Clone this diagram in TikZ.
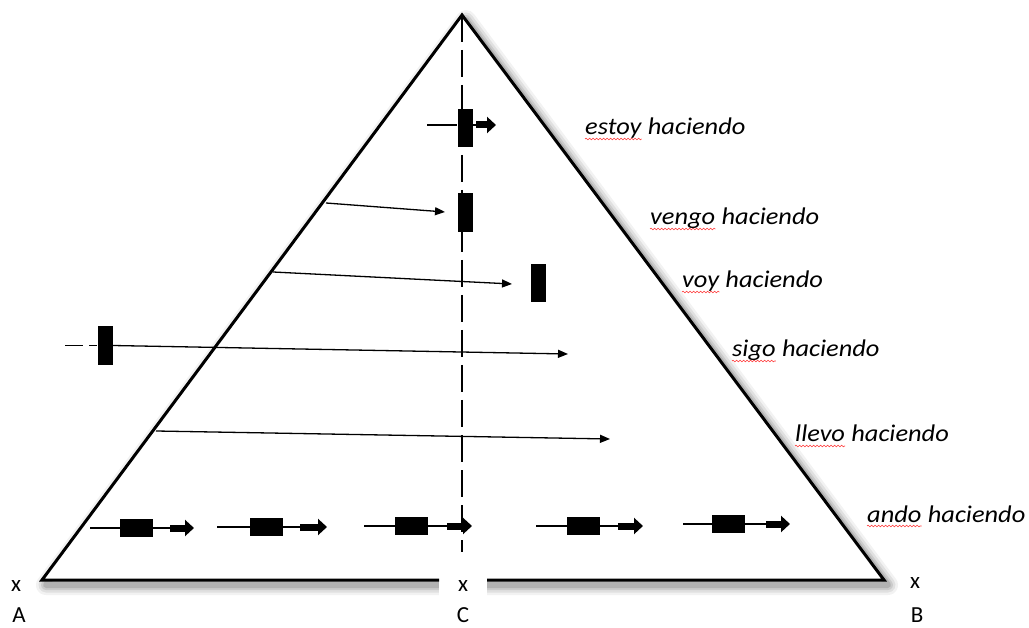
\documentclass[tikz,border=0pt]{standalone}
\usepackage{fontspec}
\setmainfont{Carlito}
\usetikzlibrary{arrows.meta,decorations.pathmorphing}
\begin{document}
\begin{tikzpicture}[x=1pt,y=-1pt,
  edge/.style={line width=3pt, line join=miter, line cap=butt},
  axis/.style={line width=1.6pt, dash pattern=on 27pt off 8pt},
  bar/.style={fill=black, draw=none, inner sep=0pt, minimum width=15pt, minimum height=38pt},
  block/.style={fill=black, draw=none, inner sep=0pt, minimum width=33pt, minimum height=18pt},
  lead/.style={line width=1.3pt},
  thinarrow/.style={line width=1.3pt, -{Triangle[length=10pt,width=8pt]}},
  fatarrow/.style={line width=7pt, -{Triangle[length=9pt,width=16pt]}},
  verb/.style={font=\fontsize{24}{28}\selectfont\itshape, inner sep=0pt, anchor=base west},
  corner/.style={font=\fontsize{23}{27}\selectfont, inner sep=0pt, anchor=base},
  spell/.style={draw=red!80, line width=0.6pt, decorate,
    decoration={snake, segment length=3.5pt, amplitude=0.8pt}}
]
\useasboundingbox (0,0) rectangle (1029,628);
\fill[white] (0,0) rectangle (1029,628);

% triangle corners
\coordinate (A) at (42,580);
\coordinate (B) at (884,580);
\coordinate (T) at (462,15);

% soft shadow behind the triangle
\foreach \w/\o in {20/0.05,15/0.07,10/0.09,6/0.12}{
  \draw[line width=\w pt, black, opacity=\o, line join=round]
    ([shift={(4,5)}]A) -- ([shift={(4,5)}]T) -- ([shift={(4,5)}]B) -- cycle;
}
\fill[white] (A) -- (T) -- (B) -- cycle;
\fill[white] (439,570) rectangle (487,600);

% outline with an opening in the base at C
\draw[edge] (439,580) -- (A) -- (T) -- (B) -- (487,580);

% central axis
\coordinate (axbot) at (462,552);
\draw[axis] (T) -- (axbot);

% estoy haciendo
\node[bar] (bar0) at (465,128) {};
\coordinate (s0) at (427,125);
\coordinate (f0) at (476,125);
\coordinate (t0) at (496,125);
\draw[lead] (s0) -- (s0 -| bar0.west);
\draw[lead] (bar0.east |- s0) -- (f0);
\draw[fatarrow] (f0) -- (t0);

% vengo haciendo
\node[bar, minimum height=39pt] (bar2) at (465,212.5) {};
\coordinate (s2) at (326,203);
\coordinate (t2) at (445,212);
\draw[thinarrow] (s2) -- (t2);

% voy haciendo
\node[bar] (bar3) at (538.5,283) {};
\coordinate (s3) at (273,272);
\coordinate (t3) at (512,284);
\draw[thinarrow] (s3) -- (t3);

% sigo haciendo
\node[bar, minimum height=39pt] (bar4) at (105,345.5) {};
\coordinate (s4) at (65,345.5);
\coordinate (t4) at (568,354);
\draw[lead, dash pattern=on 18pt off 6pt] (s4) -- (bar4.west);
\draw[thinarrow] (bar4.east) -- (t4);

% llevo haciendo
\coordinate (s5) at (156,431);
\coordinate (t5) at (610,439);
\draw[thinarrow] (s5) -- (t5);

% ando haciendo
\foreach \n/\s/\b/\f/\t/\y in {1/90/120/170/194/528, 2/217/250/300/327/527,
    3/364/395/447/472/526, 4/536/567/618/643/526, 5/683/712/766/790/524}{
  \coordinate (us\n) at (\s,\y);
  \node[block, anchor=west] (ub\n) at (\b,\y) {};
  \coordinate (uf\n) at (\f,\y);
  \coordinate (ut\n) at (\t,\y);
  \draw[lead] (us\n) -- (ub\n.west);
  \draw[lead] (ub\n.east) -- (uf\n);
  \draw[fatarrow] (uf\n) -- (ut\n);
}

% verb labels
\foreach \k/\w/\x/\y in {1/estoy/585/135, 2/vengo/650/225, 3/voy/682/288,
    4/sigo/732/357, 5/llevo/795/442, 6/ando/867/522}{
  \node[verb] (w\k) at (\x,\y) {\scalebox{1.1}[1]{\w}};
  \node[verb] (h\k) at ([xshift=6pt]w\k.base east) {\scalebox{1.1}[1]{haciendo}};
  \draw[spell] ([yshift=-4pt]w\k.base west) -- ([yshift=-4pt]w\k.base east);
}

% end points of the base
\node[corner] (xa) at (16,591) {x};
\node[corner] (la) at (19,622) {A};
\node[corner] (xc) at (463,591) {x};
\node[corner] (lc) at (463,622) {C};
\node[corner] (xb) at (915,588) {x};
\node[corner] (lb) at (917,622) {B};
\end{tikzpicture}
\end{document}
